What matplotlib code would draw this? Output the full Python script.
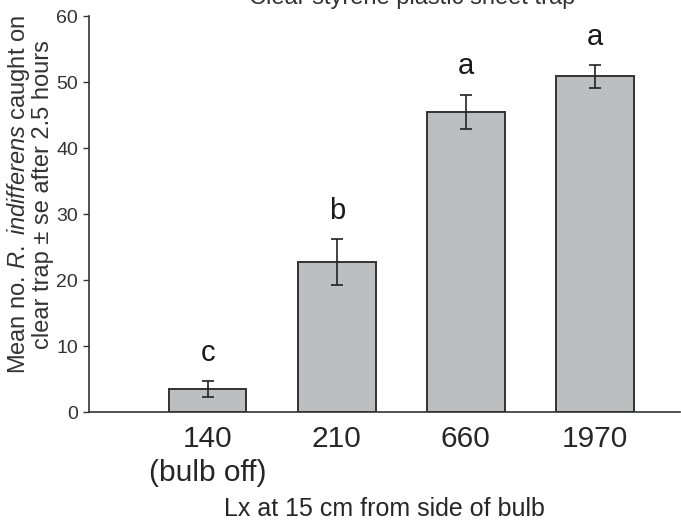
import matplotlib
matplotlib.use('Agg')
import matplotlib.pyplot as plt
import numpy as np

# values
lux = ['140\n(bulb off)', '210', '660', '1970']
mean_caught = [3.5, 22.7, 45.5, 50.9]
se = [1.2, 3.5, 2.6, 1.7]
letters = ['c', 'b', 'a', 'a']

plt.rcParams['font.family'] = ['Liberation Sans', 'DejaVu Sans']
plt.rcParams['mathtext.fontset'] = 'custom'
plt.rcParams['mathtext.rm'] = 'Liberation Sans'
plt.rcParams['mathtext.it'] = 'Liberation Sans:italic'

txt = '#262626'

fig = plt.figure(figsize=(6.81, 5.22), dpi=100)
ax = fig.add_axes([0.1307, 0.2107, 0.868, 0.758])

x = np.arange(len(lux))
ax.bar(x, mean_caught, width=0.6, color='#bdbec0', edgecolor='#333333',
       linewidth=1.4, zorder=2)
ax.errorbar(x, mean_caught, yerr=se, fmt='none', ecolor='#222222',
            elinewidth=1.2, capsize=4.5, capthick=1.2, zorder=3)

for xi, m, s, lab in zip(x, mean_caught, se, letters):
    ax.text(xi, m + s + 2.2, lab, ha='center', va='bottom',
            fontsize=21, color='#1a1a1a')

ax.set_xlim(-0.92, 3.66)
ax.set_ylim(0, 60)
ax.set_yticks(np.arange(0, 61, 10))
ax.set_xticks(x)
ax.set_xticklabels(lux, fontsize=21.5, color=txt, linespacing=1.3)
ax.tick_params(axis='x', length=0, pad=9)
ax.tick_params(axis='y', labelsize=14, labelcolor='#333333', length=4,
               width=1, color='#333333', direction='out', pad=4)

for sp in ['top', 'right']:
    ax.spines[sp].set_visible(False)
for sp in ['left', 'bottom']:
    ax.spines[sp].set_color('#333333')
    ax.spines[sp].set_linewidth(1.2)

ax.set_ylabel('Mean no. $R.\\ indifferens$ caught on\nclear trap \u00b1 se after 2.5 hours',
              fontsize=17, color='#333333', linespacing=0.95)
ax.yaxis.set_label_coords(-0.06, 0.55)
ax.set_xlabel('Lx at 15 cm from side of bulb', fontsize=18, color=txt,
              labelpad=7)

# title is cut off by the top edge in the original
fig.text(0.605, 1 - 4 / 522, 'Clear styrene plastic sheet trap', ha='center',
         va='baseline', fontsize=17, color='#333333')

fig.savefig('out.png', dpi=100)
